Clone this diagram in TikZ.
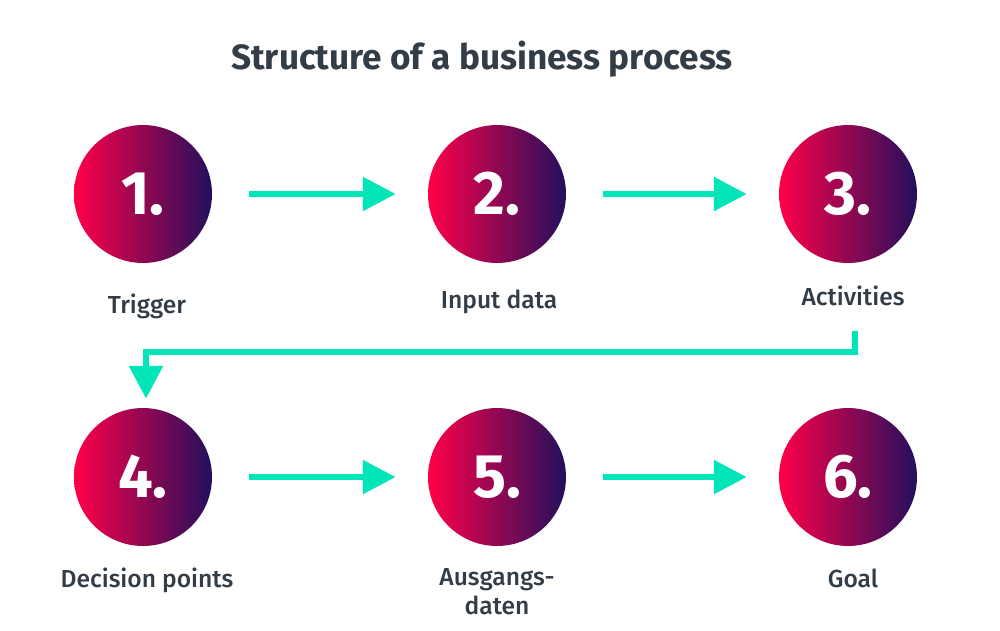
\documentclass[tikz,border=0pt]{standalone}
\usepackage{fontspec}
\setmainfont{Fira Sans}
\newfontfamily\labelfont{Fira Sans Medium}
\usetikzlibrary{arrows.meta, positioning, calc}
\definecolor{inkgray}{HTML}{333D47}
\definecolor{flowteal}{HTML}{00E6B8}
\definecolor{gradred}{HTML}{FF0048}
\definecolor{gradpurple}{HTML}{230F5C}

\begin{document}
\begin{tikzpicture}[x=0.02cm, y=-0.02cm,
        stepcircle/.style={circle, inner sep=0pt, minimum size=2.76cm,
            left color=gradred, right color=gradpurple, text=white,
            font=\fontsize{35}{40}\selectfont\bfseries},
        steplabel/.style={anchor=base, align=center, text=inkgray,
            font=\labelfont\fontsize{14}{16}\selectfont},
        flow/.style={draw=flowteal, line width=3.4pt,
            -{Triangle[length=18.7pt, width=18.7pt]}}]
        \useasboundingbox (0,0) rectangle (1000,630);
        \node[font=\fontsize{20}{24}\selectfont\bfseries, text=inkgray] (title) at (482,59) {Structure of a business process};
        % first row
        \node[stepcircle] (c1) at (143,194) {1.};
        \node[stepcircle] (c2) at (497,194) {2.};
        \node[stepcircle] (c3) at (848,194) {3.};
        \node[steplabel] (l1) at (147,313) {Trigger};
        \node[steplabel] (l2) at (499,308) {Input data};
        \node[steplabel] (l3) at (853,305) {Activities};
        % second row
        \node[stepcircle] (c4) at (143,477) {4.};
        \node[stepcircle] (c5) at (497,477) {5.};
        \node[stepcircle] (c6) at (848,477) {6.};
        \node[steplabel] (l4) at (147,587) {Decision points};
        \node[steplabel] (l5) at (497,614) {Ausgangs-\\daten};
        \node[steplabel] (l6) at (853,587) {Goal};
        % connectors
        \draw[flow, shorten <=0.74cm, shorten >=0.64cm] (c1) -- (c2);
        \draw[flow, shorten <=0.74cm, shorten >=0.64cm] (c2) -- (c3);
        \draw[flow, shorten <=0.74cm, shorten >=0.64cm] (c4) -- (c5);
        \draw[flow, shorten <=0.74cm, shorten >=0.64cm] (c5) -- (c6);
        \coordinate (bend) at (855,331);
        \draw[flow, shorten >=0.18cm] (bend) -- ++(0,21) -| ([xshift=0.06cm]c4.north);
    \end{tikzpicture}
\end{document}
